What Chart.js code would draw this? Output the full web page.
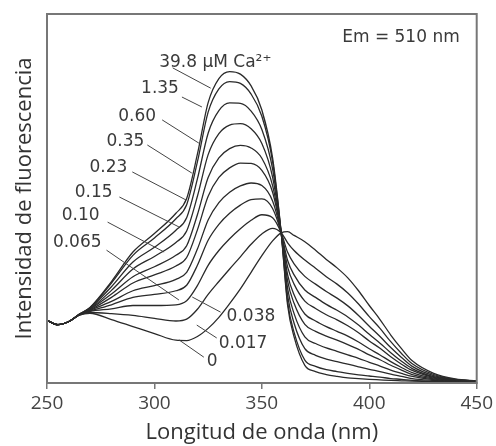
<!DOCTYPE html>
<html>
<head>
<meta charset="utf-8">
<script src="https://cdn.jsdelivr.net/npm/chart.js@4"></script>
<style>body{margin:0;background:#fff}</style>
</head>
<body>
<canvas id="chart" width="496" height="446"></canvas>
<script>
// excitation wavelength (nm)
const wavelength = [250, 255, 260, 265, 270, 280, 290, 300, 310, 315, 320, 325, 330, 335, 340, 345,
    350, 355, 359, 362, 365, 370, 375, 380, 385, 390, 395, 400, 405, 410, 415, 420, 430, 440, 450];

// free Ca2+ (uM) for each curve
const calcium = ['0', '0.017', '0.038', '0.065', '0.10', '0.15', '0.23', '0.35', '0.60', '1.35', '39.8'];

// fluorescence intensity
const ca_0 = [17.0, 15.8, 16.6, 18.4, 18.9, 17.2, 15.3, 13.4, 11.6, 11.5, 12.6, 14.8, 17.8, 21.5, 25.5, 30.0,
    34.5, 38.5, 40.7, 41.0, 40.0, 38.3, 36.0, 33.5, 31.2, 28.5, 25.0, 21.0, 17.2, 13.0, 9.3, 6.0, 2.6, 1.1, 0.6];
const ca_0017 = [17.0, 15.8, 16.6, 18.4, 19.1, 18.8, 18.3, 17.5, 16.8, 17.3, 20.0, 24.0, 27.5, 30.9, 34.2, 37.6,
    40.4, 41.9, 40.7, 38.0, 35.9, 33.3, 31.1, 28.8, 26.8, 24.4, 21.4, 18.0, 14.8, 11.2, 8.0, 5.2, 2.3, 1.0, 0.5];
const ca_0038 = [17.0, 15.8, 16.6, 18.5, 19.4, 20.1, 21.0, 21.0, 21.2, 22.3, 26.4, 31.9, 35.9, 39.1, 41.8, 44.1,
    45.6, 44.8, 40.7, 35.4, 32.3, 28.9, 26.8, 24.8, 23.0, 20.9, 18.3, 15.4, 12.6, 9.6, 6.9, 4.5, 2.0, 0.9, 0.5];
const ca_0065 = [17.0, 15.8, 16.6, 18.5, 19.5, 21.2, 23.2, 24.0, 25.0, 26.5, 31.9, 38.7, 43.0, 46.0, 48.2, 49.7,
    49.9, 47.3, 40.7, 33.2, 29.3, 25.2, 23.2, 21.3, 19.7, 17.9, 15.7, 13.2, 10.8, 8.2, 5.9, 3.9, 1.7, 0.8, 0.4];
const ca_010 = [17.0, 15.8, 16.6, 18.5, 19.7, 22.1, 25.0, 26.4, 28.1, 30.0, 36.3, 44.2, 48.9, 51.7, 53.4, 54.2,
    53.5, 49.3, 40.7, 31.4, 26.8, 22.2, 20.2, 18.5, 17.1, 15.5, 13.6, 11.4, 9.4, 7.1, 5.1, 3.4, 1.5, 0.7, 0.4];
const ca_015 = [17.0, 15.8, 16.6, 18.5, 19.8, 23.2, 27.1, 29.3, 31.7, 34.0, 41.5, 50.6, 55.7, 58.3, 59.6, 59.5,
    57.6, 51.7, 40.7, 29.3, 23.9, 18.7, 16.8, 15.3, 14.0, 12.7, 11.1, 9.3, 7.6, 5.8, 4.2, 2.8, 1.3, 0.6, 0.4];
const ca_023 = [17.0, 15.8, 16.6, 18.5, 20.0, 24.1, 28.8, 31.5, 34.6, 37.2, 45.6, 55.7, 61.0, 63.5, 64.4, 63.7,
    60.9, 53.5, 40.7, 27.6, 21.6, 15.9, 14.0, 12.7, 11.6, 10.4, 9.1, 7.6, 6.3, 4.8, 3.5, 2.3, 1.1, 0.5, 0.3];
const ca_035 = [17.0, 15.8, 16.6, 18.6, 20.1, 25.1, 30.9, 34.3, 38.1, 41.2, 50.6, 61.9, 67.6, 69.9, 70.3, 68.9,
    64.9, 55.8, 40.7, 25.6, 18.8, 12.5, 10.7, 9.5, 8.6, 7.6, 6.7, 5.6, 4.6, 3.5, 2.6, 1.8, 0.9, 0.4, 0.3];
const ca_060 = [17.0, 15.8, 16.6, 18.6, 20.3, 26.1, 32.8, 36.8, 41.4, 44.8, 55.3, 67.7, 73.8, 75.9, 75.8, 73.7,
    68.7, 58.0, 40.7, 23.7, 16.2, 9.3, 7.5, 6.5, 5.8, 5.1, 4.4, 3.7, 3.1, 2.4, 1.8, 1.2, 0.7, 0.4, 0.3];
const ca_135 = [17.0, 15.8, 16.6, 18.6, 20.4, 27.1, 34.6, 39.3, 44.5, 48.3, 59.9, 73.4, 79.7, 81.7, 81.2, 78.3,
    72.3, 60.0, 40.7, 21.9, 13.7, 6.2, 4.5, 3.6, 3.1, 2.6, 2.2, 1.9, 1.6, 1.2, 1.0, 0.7, 0.4, 0.3, 0.2];
const ca_398 = [17.0, 15.8, 16.6, 18.6, 20.5, 27.5, 35.5, 40.5, 46.0, 50.0, 62.0, 76.0, 82.5, 84.4, 83.7, 80.5,
    74.0, 61.0, 40.7, 21.0, 12.5, 4.8, 3.1, 2.3, 1.8, 1.4, 1.2, 1.0, 0.85, 0.7, 0.6, 0.5, 0.35, 0.25, 0.2];

const series = [ca_0, ca_0017, ca_0038, ca_0065, ca_010, ca_015, ca_023, ca_035, ca_060, ca_135, ca_398];

// curve labels with leader lines, in data units (nm, intensity)
const curveLabels = [
    { text: '39.8 \u00b5M Ca\u00b2\u207a', at: [302.2, 86.9], align: 'left', from: [308.5, 85.4], to: [326.2, 79.9] },
    { text: '1.35', at: [311.4, 79.7], align: 'right', from: [312.8, 77.5], to: [322.1, 74.8] },
    { text: '0.60', at: [300.8, 72.1], align: 'right', from: [303.6, 71.3], to: [320.7, 65.0] },
    { text: '0.35', at: [295.3, 65.3], align: 'right', from: [296.7, 64.5], to: [317.4, 56.9] },
    { text: '0.23', at: [287.4, 58.5], align: 'right', from: [289.7, 57.2], to: [314.7, 49.6] },
    { text: '0.15', at: [280.5, 51.5], align: 'right', from: [283.7, 50.4], to: [311.4, 42.3] },
    { text: '0.10', at: [274.5, 45.5], align: 'right', from: [278.2, 43.6], to: [304.5, 35.5] },
    { text: '0.065', at: [275.4, 38.0], align: 'right', from: [277.7, 36.0], to: [311.4, 22.5] },
    { text: '0.038', at: [333.6, 17.9], align: 'left', from: [330.8, 19.2], to: [317.6, 23.3] },
    { text: '0.017', at: [329.9, 10.6], align: 'left', from: [329.0, 12.2], to: [319.7, 15.7] },
    { text: '0', at: [324.4, 5.7], align: 'left', from: [323.0, 7.0], to: [311.4, 11.7] },
    { text: 'Em = 510 nm', at: [442.1, 93.5], align: 'right' }
];

const labelsPlugin = {
    id: 'labels',
    afterDatasetsDraw(chart) {
        const { ctx, chartArea: a, scales: { x, y } } = chart;
        ctx.save();
        ctx.strokeStyle = '#444';
        ctx.lineWidth = 1;
        ctx.fillStyle = '#3a3a3a';
        ctx.font = '17px "DejaVu Sans"';
        ctx.textBaseline = 'middle';
        curveLabels.forEach(l => {
            if (l.from) {
                ctx.beginPath();
                ctx.moveTo(x.getPixelForValue(l.from[0]), y.getPixelForValue(l.from[1]));
                ctx.lineTo(x.getPixelForValue(l.to[0]), y.getPixelForValue(l.to[1]));
                ctx.stroke();
            }
            ctx.textAlign = l.align;
            ctx.fillText(l.text, x.getPixelForValue(l.at[0]), y.getPixelForValue(l.at[1]));
        });
        // box around the plot
        ctx.strokeStyle = '#777';
        ctx.lineWidth = 2;
        ctx.strokeRect(a.left, a.top, a.right - a.left, a.bottom - a.top);
        ctx.restore();
    }
};

new Chart(document.getElementById('chart'), {
    type: 'line',
    data: {
        datasets: series.map((s, i) => ({
            label: calcium[i],
            data: s.map((v, j) => ({ x: wavelength[j], y: v })),
            borderColor: '#2a2a2a',
            borderWidth: 1.3,
            pointRadius: 0,
            cubicInterpolationMode: 'monotone',
            fill: false
        }))
    },
    options: {
        responsive: false,
        animation: false,
        layout: { padding: { top: 14, right: 16, left: 0, bottom: 0 } },
        plugins: { legend: { display: false }, tooltip: { enabled: false } },
        scales: {
            x: {
                type: 'linear',
                min: 250,
                max: 450,
                afterFit: s => { s.height = 63; },
                ticks: { stepSize: 50, padding: 3, color: '#444', font: { family: 'Open Sans', size: 19 } },
                grid: { drawOnChartArea: false, tickLength: 6, color: '#777', lineWidth: 1.5 },
                border: { color: '#777', width: 2 },
                title: {
                    display: true,
                    text: 'Longitud de onda (nm)',
                    color: '#333',
                    font: { family: 'Open Sans', size: 22 },
                    padding: { top: 0, bottom: 0 }
                }
            },
            y: {
                min: 0,
                max: 100,
                afterFit: s => { s.width = 47; },
                ticks: { display: false },
                grid: { display: false },
                border: { color: '#777', width: 2 },
                title: {
                    display: true,
                    text: 'Intensidad de fluorescencia',
                    color: '#333',
                    font: { family: 'Open Sans', size: 22 },
                    padding: { top: 12, bottom: 0 }
                }
            }
        }
    },
    plugins: [labelsPlugin]
});
</script>
</body>
</html>
